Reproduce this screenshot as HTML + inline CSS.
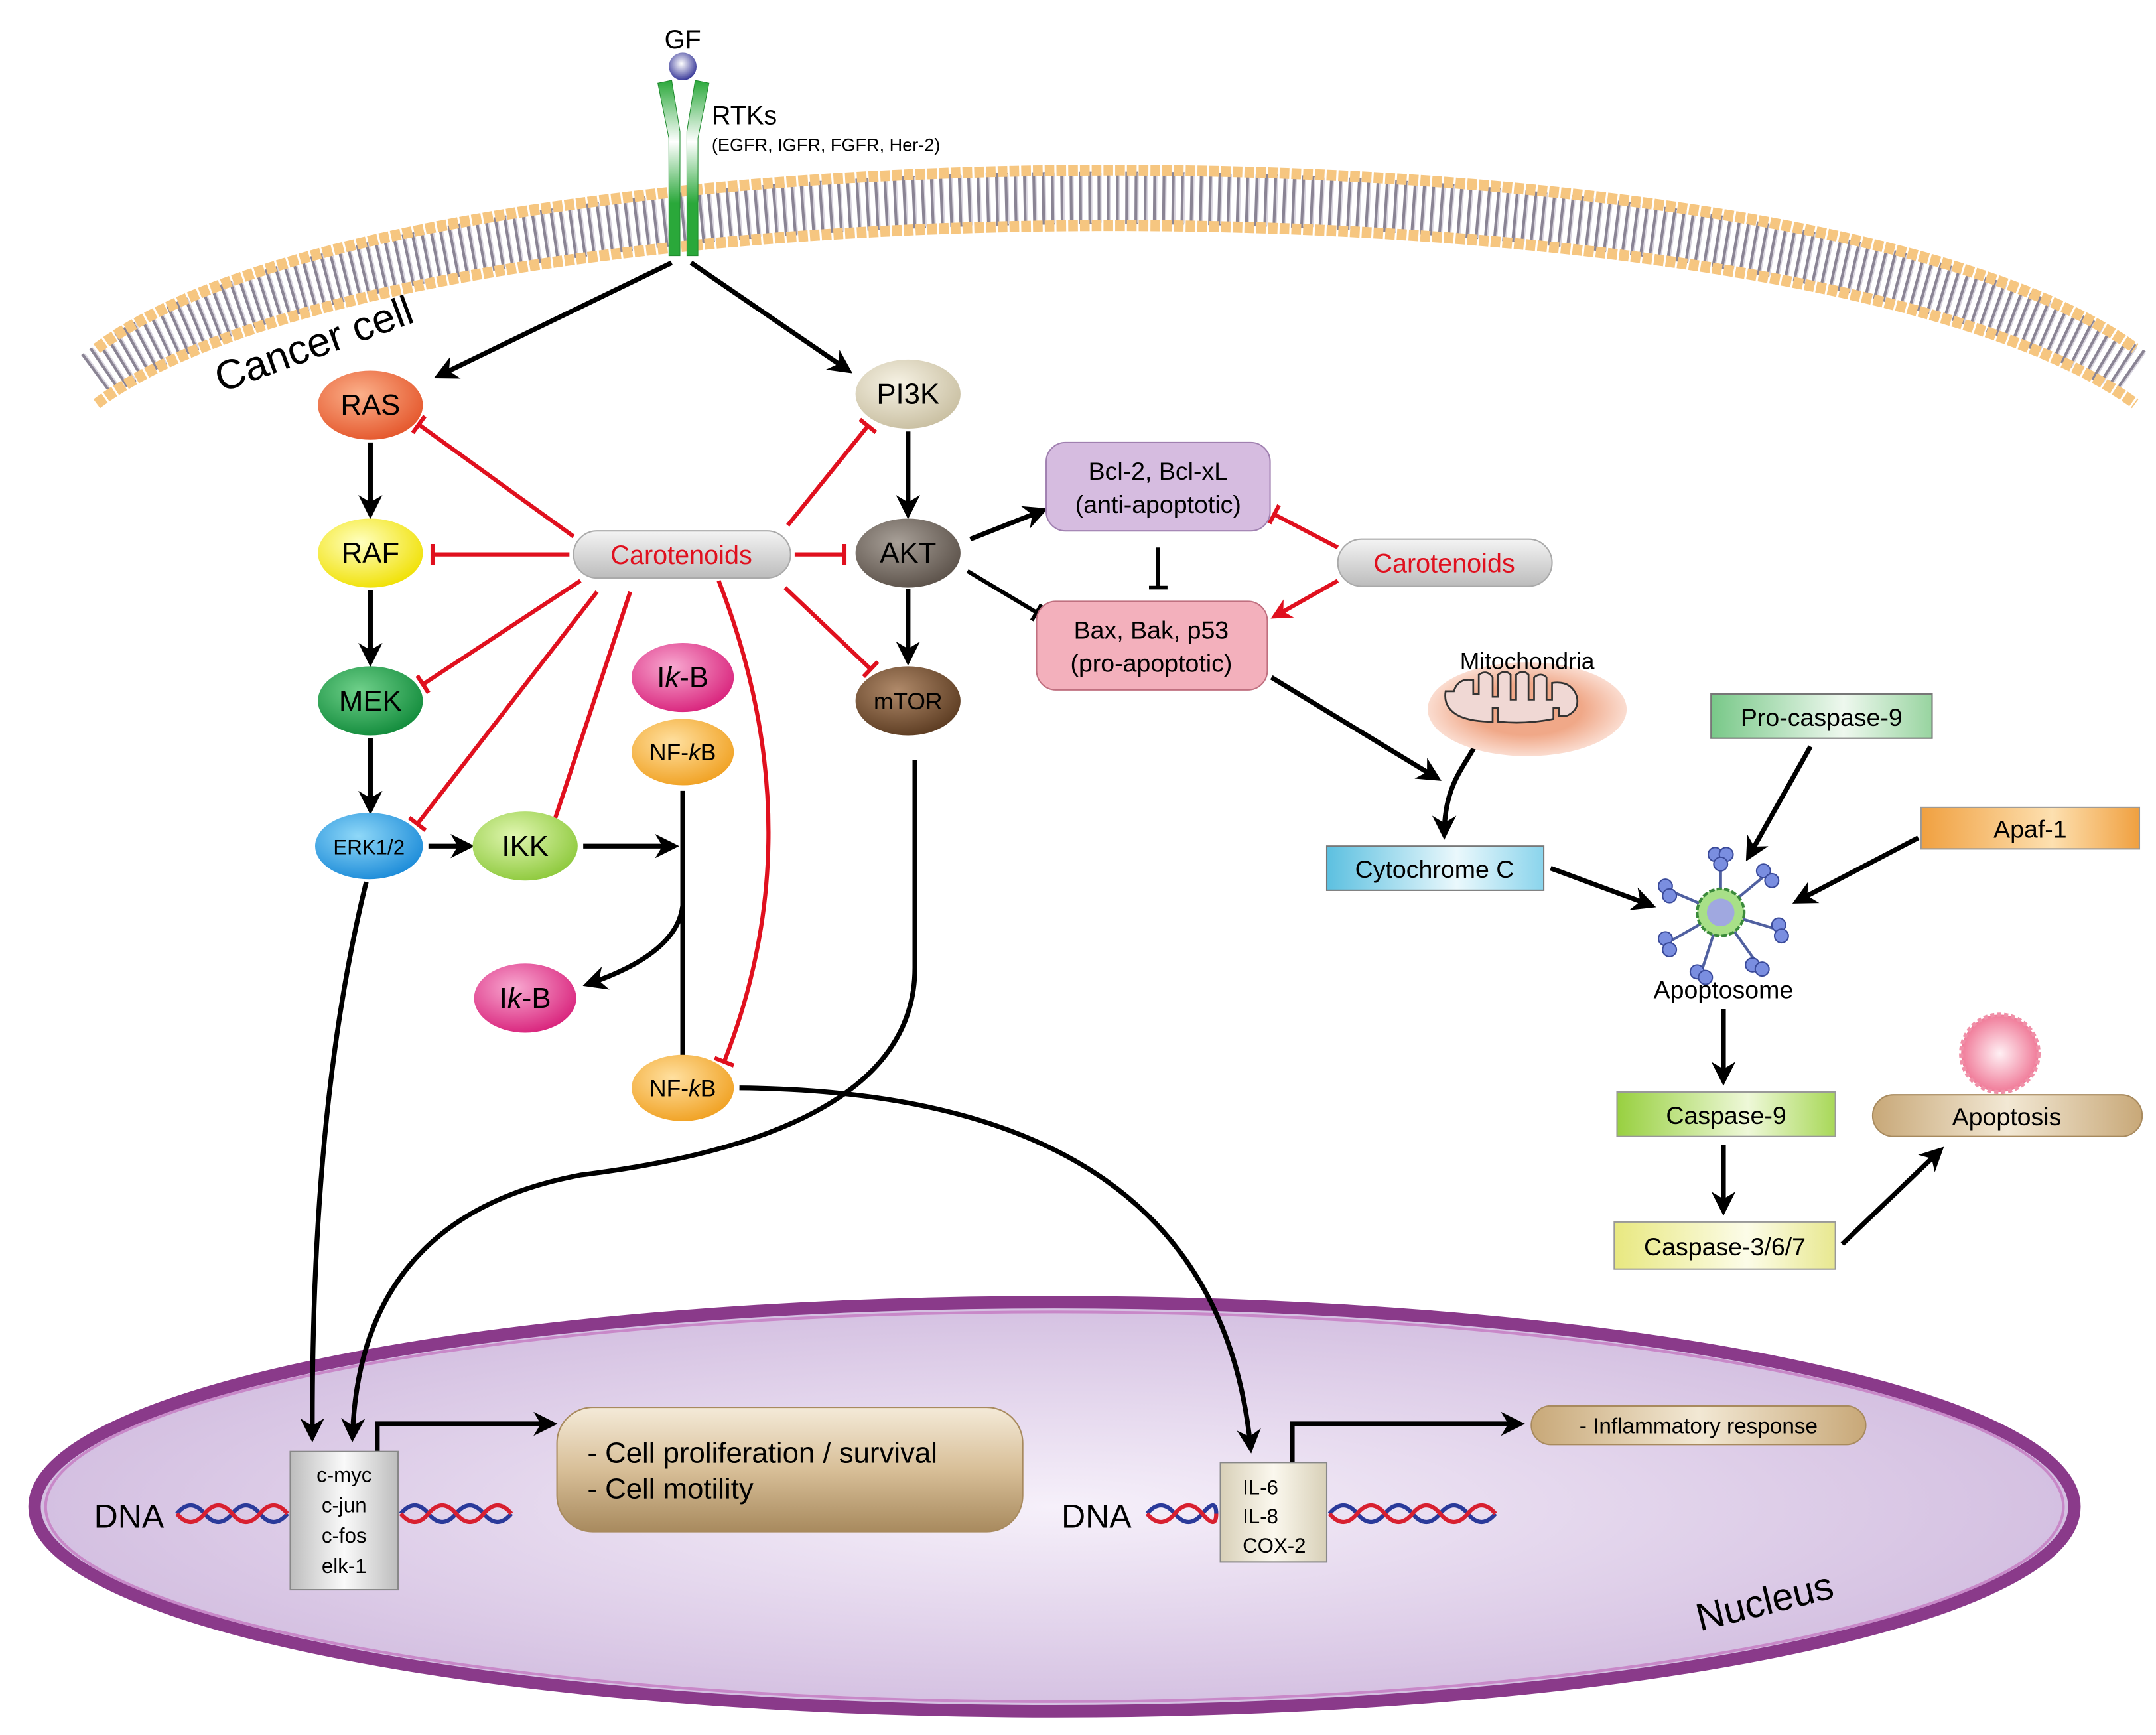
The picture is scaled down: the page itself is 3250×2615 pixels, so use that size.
<!DOCTYPE html>
<html><head><meta charset="utf-8"><style>
html,body{margin:0;padding:0;background:#fff;}
svg{display:block;}
text{font-family:"Liberation Sans",sans-serif;}
</style></head><body>
<svg width="3250" height="2615" viewBox="0 0 1560 1255" xmlns="http://www.w3.org/2000/svg">
<defs>
<marker id="ah" viewBox="0 0 10 10" refX="8" refY="5" markerWidth="5" markerHeight="5" orient="auto-start-reverse" markerUnits="strokeWidth"><path d="M0,0 L10,5 L0,10 L3,5 z" fill="#000"/></marker>
<marker id="ahr" viewBox="0 0 10 10" refX="8" refY="5" markerWidth="5" markerHeight="5" orient="auto" markerUnits="strokeWidth"><path d="M0,0 L10,5 L0,10 L3,5 z" fill="#e0101e"/></marker>
<marker id="tr" viewBox="0 0 4 20" refX="2" refY="10" markerWidth="2.2" markerHeight="5" orient="auto" markerUnits="strokeWidth"><rect x="0" y="0" width="4" height="20" fill="#e0101e"/></marker>
<marker id="tb" viewBox="0 0 4 20" refX="2" refY="10" markerWidth="2" markerHeight="4.5" orient="auto" markerUnits="strokeWidth"><rect x="0" y="0" width="4" height="20" fill="#000"/></marker>
<radialGradient id="gRas" cx="40%" cy="35%" r="70%"><stop offset="0" stop-color="#fbb08a"/><stop offset="1" stop-color="#e4552a"/></radialGradient>
<radialGradient id="gRaf" cx="40%" cy="35%" r="70%"><stop offset="0" stop-color="#ffffc0"/><stop offset="1" stop-color="#f0e000"/></radialGradient>
<radialGradient id="gMek" cx="40%" cy="35%" r="70%"><stop offset="0" stop-color="#6fd08a"/><stop offset="1" stop-color="#108a3a"/></radialGradient>
<radialGradient id="gErk" cx="40%" cy="35%" r="70%"><stop offset="0" stop-color="#8fd8f8"/><stop offset="1" stop-color="#1a8ad8"/></radialGradient>
<radialGradient id="gIkk" cx="40%" cy="35%" r="70%"><stop offset="0" stop-color="#e0f6b0"/><stop offset="1" stop-color="#8cc83a"/></radialGradient>
<radialGradient id="gIkb" cx="40%" cy="35%" r="70%"><stop offset="0" stop-color="#f8a8d0"/><stop offset="1" stop-color="#d8207a"/></radialGradient>
<radialGradient id="gNf" cx="40%" cy="35%" r="70%"><stop offset="0" stop-color="#ffe0a0"/><stop offset="1" stop-color="#f0a020"/></radialGradient>
<radialGradient id="gPi" cx="40%" cy="35%" r="70%"><stop offset="0" stop-color="#f6f2e4"/><stop offset="1" stop-color="#c8bea0"/></radialGradient>
<radialGradient id="gAkt" cx="40%" cy="35%" r="70%"><stop offset="0" stop-color="#a8a098"/><stop offset="1" stop-color="#5a5048"/></radialGradient>
<radialGradient id="gMt" cx="40%" cy="35%" r="70%"><stop offset="0" stop-color="#b08a6a"/><stop offset="1" stop-color="#5a3a20"/></radialGradient>
<linearGradient id="gCar" x1="0" y1="0" x2="0" y2="1"><stop offset="0" stop-color="#f4f4f4"/><stop offset="1" stop-color="#bcbcbc"/></linearGradient>
<linearGradient id="gTan" x1="0" y1="0" x2="0" y2="1"><stop offset="0" stop-color="#f4ead8"/><stop offset="0.5" stop-color="#d8bf98"/><stop offset="1" stop-color="#a88a5e"/></linearGradient>
<linearGradient id="gTanH" x1="0" y1="0" x2="1" y2="0"><stop offset="0" stop-color="#c8a878"/><stop offset="0.5" stop-color="#f2e8d4"/><stop offset="1" stop-color="#c8a878"/></linearGradient>
<linearGradient id="gGene" x1="0" y1="0" x2="1" y2="0"><stop offset="0" stop-color="#bdbdbd"/><stop offset="0.5" stop-color="#fafafa"/><stop offset="1" stop-color="#bdbdbd"/></linearGradient>
<linearGradient id="gGene2" x1="0" y1="0" x2="1" y2="0"><stop offset="0" stop-color="#d8d0b8"/><stop offset="0.5" stop-color="#fbf8ee"/><stop offset="1" stop-color="#d8d0b8"/></linearGradient>
<radialGradient id="gNuc" cx="50%" cy="50%" r="60%"><stop offset="0" stop-color="#f6f0fa"/><stop offset="1" stop-color="#cdb6dc"/></radialGradient>
<linearGradient id="gRec" x1="0" y1="0" x2="0" y2="1"><stop offset="0" stop-color="#2aa83a"/><stop offset="0.35" stop-color="#ffffff"/><stop offset="0.7" stop-color="#2aa83a"/><stop offset="1" stop-color="#2aa83a"/></linearGradient>
<radialGradient id="gGf" cx="45%" cy="40%" r="60%"><stop offset="0" stop-color="#ffffff"/><stop offset="1" stop-color="#3a3a9a"/></radialGradient>
<linearGradient id="gCyt" x1="0" y1="0" x2="1" y2="0"><stop offset="0" stop-color="#5cc0e0"/><stop offset="0.6" stop-color="#eaf8fc"/><stop offset="1" stop-color="#8ad4ec"/></linearGradient>
<linearGradient id="gPro" x1="0" y1="0" x2="1" y2="0"><stop offset="0" stop-color="#78c888"/><stop offset="0.6" stop-color="#eef8ee"/><stop offset="1" stop-color="#98d4a0"/></linearGradient>
<linearGradient id="gApaf" x1="0" y1="0" x2="1" y2="0"><stop offset="0" stop-color="#f0a040"/><stop offset="0.6" stop-color="#fde0b0"/><stop offset="1" stop-color="#f0a040"/></linearGradient>
<linearGradient id="gC9" x1="0" y1="0" x2="1" y2="0"><stop offset="0" stop-color="#98d040"/><stop offset="0.6" stop-color="#eef8d8"/><stop offset="1" stop-color="#a8d858"/></linearGradient>
<linearGradient id="gC3" x1="0" y1="0" x2="1" y2="0"><stop offset="0" stop-color="#e8e880"/><stop offset="0.6" stop-color="#fcfce8"/><stop offset="1" stop-color="#e8e890"/></linearGradient>
<radialGradient id="gMito" cx="50%" cy="50%" r="55%"><stop offset="0.5" stop-color="#f0a888"/><stop offset="1" stop-color="#fde8e0"/></radialGradient>
<radialGradient id="gBub" cx="50%" cy="50%" r="50%"><stop offset="0" stop-color="#fff0f4"/><stop offset="1" stop-color="#f07a98"/></radialGradient>
</defs>

<!-- Membrane -->
<path d="M70,272 C300,100 1310,100 1545,272" fill="none" stroke="#8a8494" stroke-width="38" stroke-dasharray="2.5 4.2"/>
<path d="M70,272 C300,100 1310,100 1545,272" fill="none" stroke="#d8d4de" stroke-width="36" stroke-dasharray="1 5.7" stroke-dashoffset="-2"/>
<path d="M70,252 C300,80 1310,80 1545,252" fill="none" stroke="#f6c680" stroke-width="8" stroke-dasharray="7 1.5"/>
<path d="M70,292 C300,120 1310,120 1545,292" fill="none" stroke="#f6c680" stroke-width="8" stroke-dasharray="7 1.5"/>

<!-- Receptor -->
<path d="M476,60 L486,58 L492,95 L492,185 L484,185 L484,100 Z" fill="url(#gRec)" stroke="#1f8a2e" stroke-width="0.5"/>
<path d="M513,60 L503,58 L497,95 L497,185 L505,185 L505,100 Z" fill="url(#gRec)" stroke="#1f8a2e" stroke-width="0.5"/>
<circle cx="494" cy="48" r="10" fill="url(#gGf)"/>
<text x="494" y="35" font-size="19" text-anchor="middle">GF</text>
<text x="515" y="90" font-size="19">RTKs</text>
<text x="515" y="109" font-size="13">(EGFR, IGFR, FGFR, Her-2)</text>
<text x="160" y="284" font-size="30" transform="rotate(-20 160 284)">Cancer cell</text>

<!-- Nucleus -->
<ellipse cx="763" cy="1090" rx="738" ry="148" fill="url(#gNuc)" stroke="#8a3a8a" stroke-width="9"/>
<ellipse cx="763" cy="1090" rx="730" ry="141" fill="none" stroke="#c888c8" stroke-width="2"/>
<text x="1230" y="1180" font-size="28" transform="rotate(-14 1230 1180)">Nucleus</text>

<!-- Black arrows -->
<g stroke="#000" stroke-width="3.5" fill="none" marker-end="url(#ah)">
<line x1="486" y1="190" x2="317" y2="272"/>
<line x1="500" y1="190" x2="614" y2="268"/>
<line x1="268" y1="320" x2="268" y2="372"/>
<line x1="268" y1="427" x2="268" y2="479"/>
<line x1="268" y1="534" x2="268" y2="586"/>
<line x1="310" y1="612" x2="340" y2="612"/>
<line x1="422" y1="612" x2="488" y2="612"/>
<line x1="657" y1="312" x2="657" y2="372"/>
<line x1="657" y1="426" x2="657" y2="478"/>
<line x1="702" y1="390" x2="755" y2="369"/>
<line x1="920" y1="490" x2="1040" y2="563"/>
<line x1="1122" y1="628" x2="1195" y2="655"/>
<line x1="1310" y1="540" x2="1265" y2="620"/>
<line x1="1388" y1="606" x2="1300" y2="652"/>
<line x1="1247" y1="730" x2="1247" y2="782"/>
<line x1="1247" y1="828" x2="1247" y2="876"/>
<line x1="1333" y1="900" x2="1404" y2="832"/>
<path d="M494,572 L494,778"/>
<path d="M494,655 Q490,690 425,712"/>
<path d="M1078,500 C1076,550 1045,550 1045,604"/>
<path d="M265,638 Q225,800 226,1040"/>
<path d="M662,550 L662,700 Q662,820 420,850 Q260,880 255,1040"/>
<path d="M535,787 Q880,790 905,1048"/>
<path d="M273,1052 L273,1030 L400,1030"/>
<path d="M935,1058 L935,1030 L1100,1030"/>
</g>
<line x1="700" y1="413" x2="750" y2="443" stroke="#000" stroke-width="3" marker-end="url(#tb)"/>
<line x1="838" y1="396" x2="838" y2="425" stroke="#000" stroke-width="3" marker-end="url(#tb)"/>

<!-- Red inhibitions -->
<g stroke="#e0101e" stroke-width="3" fill="none" marker-end="url(#tr)">
<line x1="415" y1="388" x2="303" y2="307"/>
<line x1="412" y1="401" x2="313" y2="401"/>
<line x1="420" y1="420" x2="306" y2="495"/>
<line x1="432" y1="428" x2="302" y2="596"/>
<line x1="456" y1="428" x2="400" y2="597"/>
<path d="M520,420 Q590,600 524,768"/>
<line x1="568" y1="425" x2="630" y2="484"/>
<line x1="575" y1="401" x2="611" y2="401"/>
<line x1="570" y1="380" x2="628" y2="308"/>
<line x1="968" y1="396" x2="922" y2="372"/>
</g>
<line x1="968" y1="420" x2="922" y2="446" stroke="#e0101e" stroke-width="3" marker-end="url(#ahr)"/>

<!-- Nodes -->
<g font-size="21" text-anchor="middle">
<ellipse cx="268" cy="293" rx="38" ry="25" fill="url(#gRas)"/><text x="268" y="300">RAS</text>
<ellipse cx="268" cy="400" rx="38" ry="25" fill="url(#gRaf)"/><text x="268" y="407">RAF</text>
<ellipse cx="268" cy="507" rx="38" ry="25" fill="url(#gMek)"/><text x="268" y="514">MEK</text>
<ellipse cx="267" cy="612" rx="39" ry="24" fill="url(#gErk)"/><text x="267" y="618" font-size="15">ERK1/2</text>
<ellipse cx="380" cy="612" rx="38" ry="25" fill="url(#gIkk)"/><text x="380" y="619">IKK</text>
<ellipse cx="494" cy="490" rx="37" ry="25" fill="url(#gIkb)"/><text x="494" y="497">I<tspan font-style="italic">k</tspan>-B</text>
<ellipse cx="494" cy="544" rx="37" ry="24" fill="url(#gNf)"/><text x="494" y="550" font-size="17">NF-<tspan font-style="italic">k</tspan>B</text>
<ellipse cx="380" cy="722" rx="37" ry="25" fill="url(#gIkb)"/><text x="380" y="729">I<tspan font-style="italic">k</tspan>-B</text>
<ellipse cx="494" cy="787" rx="37" ry="24" fill="url(#gNf)"/><text x="494" y="793" font-size="17">NF-<tspan font-style="italic">k</tspan>B</text>
<ellipse cx="657" cy="285" rx="38" ry="25" fill="url(#gPi)"/><text x="657" y="292">PI3K</text>
<ellipse cx="657" cy="400" rx="38" ry="25" fill="url(#gAkt)"/><text x="657" y="407">AKT</text>
<ellipse cx="657" cy="507" rx="38" ry="25" fill="url(#gMt)"/><text x="657" y="513" font-size="17">mTOR</text>
</g>

<rect x="415" y="384" width="157" height="34" rx="17" fill="url(#gCar)" stroke="#aaa"/>
<text x="493" y="408" font-size="19" fill="#e0101e" text-anchor="middle">Carotenoids</text>
<rect x="968" y="390" width="155" height="34" rx="17" fill="url(#gCar)" stroke="#aaa"/>
<text x="1045" y="414" font-size="19" fill="#e0101e" text-anchor="middle">Carotenoids</text>

<rect x="757" y="320" width="162" height="64" rx="14" fill="#d6bce0" stroke="#a080b0"/>
<text x="838" y="347" font-size="18" text-anchor="middle">Bcl-2, Bcl-xL</text>
<text x="838" y="371" font-size="18" text-anchor="middle">(anti-apoptotic)</text>
<rect x="750" y="435" width="167" height="64" rx="14" fill="#f3b0bc" stroke="#c07080"/>
<text x="833" y="462" font-size="18" text-anchor="middle">Bax, Bak, p53</text>
<text x="833" y="486" font-size="18" text-anchor="middle">(pro-apoptotic)</text>

<!-- Mitochondria -->
<ellipse cx="1105" cy="513" rx="72" ry="34" fill="url(#gMito)"/>
<path d="M1052,500 q3,-10 14,-8 l0,10 l4,0 l0,-14 q6,-4 10,2 l0,14 l4,0 l0,-16 q5,-4 9,0 l0,18 l4,0 l0,-18 q5,-4 9,0 l0,18 l4,0 l0,-16 q5,-4 9,0 l0,16 l4,0 l0,-12 q14,-2 18,10 q2,10 -8,14 l-5,0 l0,-6 l-4,0 l0,8 q-20,4 -40,2 l0,-10 l-4,0 l0,10 q-15,0 -24,-4 q-12,-6 -10,-18z" fill="#f0d8d4" stroke="#333" stroke-width="1.3"/>
<text x="1105" y="484" font-size="17" text-anchor="middle">Mitochondria</text>

<rect x="960" y="612" width="157" height="32" fill="url(#gCyt)" stroke="#777"/>
<text x="1038" y="635" font-size="18" text-anchor="middle">Cytochrome C</text>
<rect x="1238" y="502" width="160" height="32" fill="url(#gPro)" stroke="#777"/>
<text x="1318" y="525" font-size="18" text-anchor="middle">Pro-caspase-9</text>
<rect x="1390" y="584" width="158" height="30" fill="url(#gApaf)" stroke="#999"/>
<text x="1469" y="606" font-size="18" text-anchor="middle">Apaf-1</text>

<!-- Apoptosome -->
<g stroke="#5060a0" stroke-width="2">
<line x1="1245" y1="660" x2="1245" y2="622"/><line x1="1245" y1="660" x2="1275" y2="635"/>
<line x1="1245" y1="660" x2="1285" y2="672"/><line x1="1245" y1="660" x2="1270" y2="695"/>
<line x1="1245" y1="660" x2="1232" y2="700"/><line x1="1245" y1="660" x2="1210" y2="680"/>
<line x1="1245" y1="660" x2="1210" y2="645"/>
</g>
<g fill="#7a8ee0" stroke="#3a4a9a" stroke-width="1">
<circle cx="1241" cy="618" r="5"/><circle cx="1249" cy="618" r="5"/><circle cx="1245" cy="625" r="5"/>
<circle cx="1276" cy="630" r="5"/><circle cx="1282" cy="637" r="5"/>
<circle cx="1287" cy="669" r="5"/><circle cx="1289" cy="677" r="5"/>
<circle cx="1268" cy="698" r="5"/><circle cx="1275" cy="701" r="5"/>
<circle cx="1228" cy="703" r="5"/><circle cx="1234" cy="707" r="5"/>
<circle cx="1205" cy="679" r="5"/><circle cx="1208" cy="687" r="5"/>
<circle cx="1205" cy="641" r="5"/><circle cx="1208" cy="648" r="5"/>
</g>
<circle cx="1245" cy="660" r="17" fill="#a8e088" stroke="#3a8a3a" stroke-width="2" stroke-dasharray="4 1.5"/>
<circle cx="1245" cy="660" r="10" fill="#a0a8e0"/>
<text x="1247" y="722" font-size="18" text-anchor="middle">Apoptosome</text>

<rect x="1170" y="790" width="158" height="32" fill="url(#gC9)" stroke="#999"/>
<text x="1249" y="813" font-size="18" text-anchor="middle">Caspase-9</text>
<rect x="1168" y="884" width="160" height="34" fill="url(#gC3)" stroke="#999"/>
<text x="1248" y="908" font-size="18" text-anchor="middle">Caspase-3/6/7</text>
<rect x="1355" y="792" width="195" height="30" rx="15" fill="url(#gTanH)" stroke="#a88a5e"/>
<text x="1452" y="814" font-size="18" text-anchor="middle">Apoptosis</text>
<circle cx="1447" cy="762" r="28" fill="url(#gBub)" stroke="#f090a8" stroke-width="3" stroke-dasharray="3 2"/>

<!-- DNA -->
<g fill="none" stroke-width="3">
<path d="M128,1095 q10,-12 20,0 t20,0 t20,0 t20,0" stroke="#2a3a9a"/>
<path d="M128,1095 q10,12 20,0 t20,0 t20,0 t20,0" stroke="#d82030"/>
<path d="M290,1095 q10,-12 20,0 t20,0 t20,0 t20,0" stroke="#2a3a9a"/>
<path d="M290,1095 q10,12 20,0 t20,0 t20,0 t20,0" stroke="#d82030"/>
<path d="M830,1095 q10,-12 20,0 t20,0 t10,0" stroke="#2a3a9a"/>
<path d="M830,1095 q10,12 20,0 t20,0 t10,0" stroke="#d82030"/>
<path d="M962,1095 q10,-12 20,0 t20,0 t20,0 t20,0 t20,0 t20,0" stroke="#2a3a9a"/>
<path d="M962,1095 q10,12 20,0 t20,0 t20,0 t20,0 t20,0 t20,0" stroke="#d82030"/>
</g>
<text x="68" y="1105" font-size="24">DNA</text>
<text x="768" y="1105" font-size="24">DNA</text>
<rect x="210" y="1050" width="78" height="100" fill="url(#gGene)" stroke="#888"/>
<g font-size="15" text-anchor="middle"><text x="249" y="1072">c-myc</text><text x="249" y="1094">c-jun</text><text x="249" y="1116">c-fos</text><text x="249" y="1138">elk-1</text></g>
<rect x="883" y="1058" width="77" height="72" fill="url(#gGene2)" stroke="#888"/>
<g font-size="15" text-anchor="middle"><text x="912" y="1081">IL-6</text><text x="912" y="1102">IL-8</text><text x="922" y="1123">COX-2</text></g>
<rect x="403" y="1018" width="337" height="90" rx="26" fill="url(#gTan)" stroke="#a88a5e"/>
<text x="425" y="1058" font-size="21">- Cell proliferation / survival</text>
<text x="425" y="1084" font-size="21">- Cell motility</text>
<rect x="1108" y="1017" width="242" height="28" rx="14" fill="url(#gTanH)" stroke="#a88a5e"/>
<text x="1229" y="1037" font-size="16" text-anchor="middle">- Inflammatory response</text>
</svg>
</body></html>
